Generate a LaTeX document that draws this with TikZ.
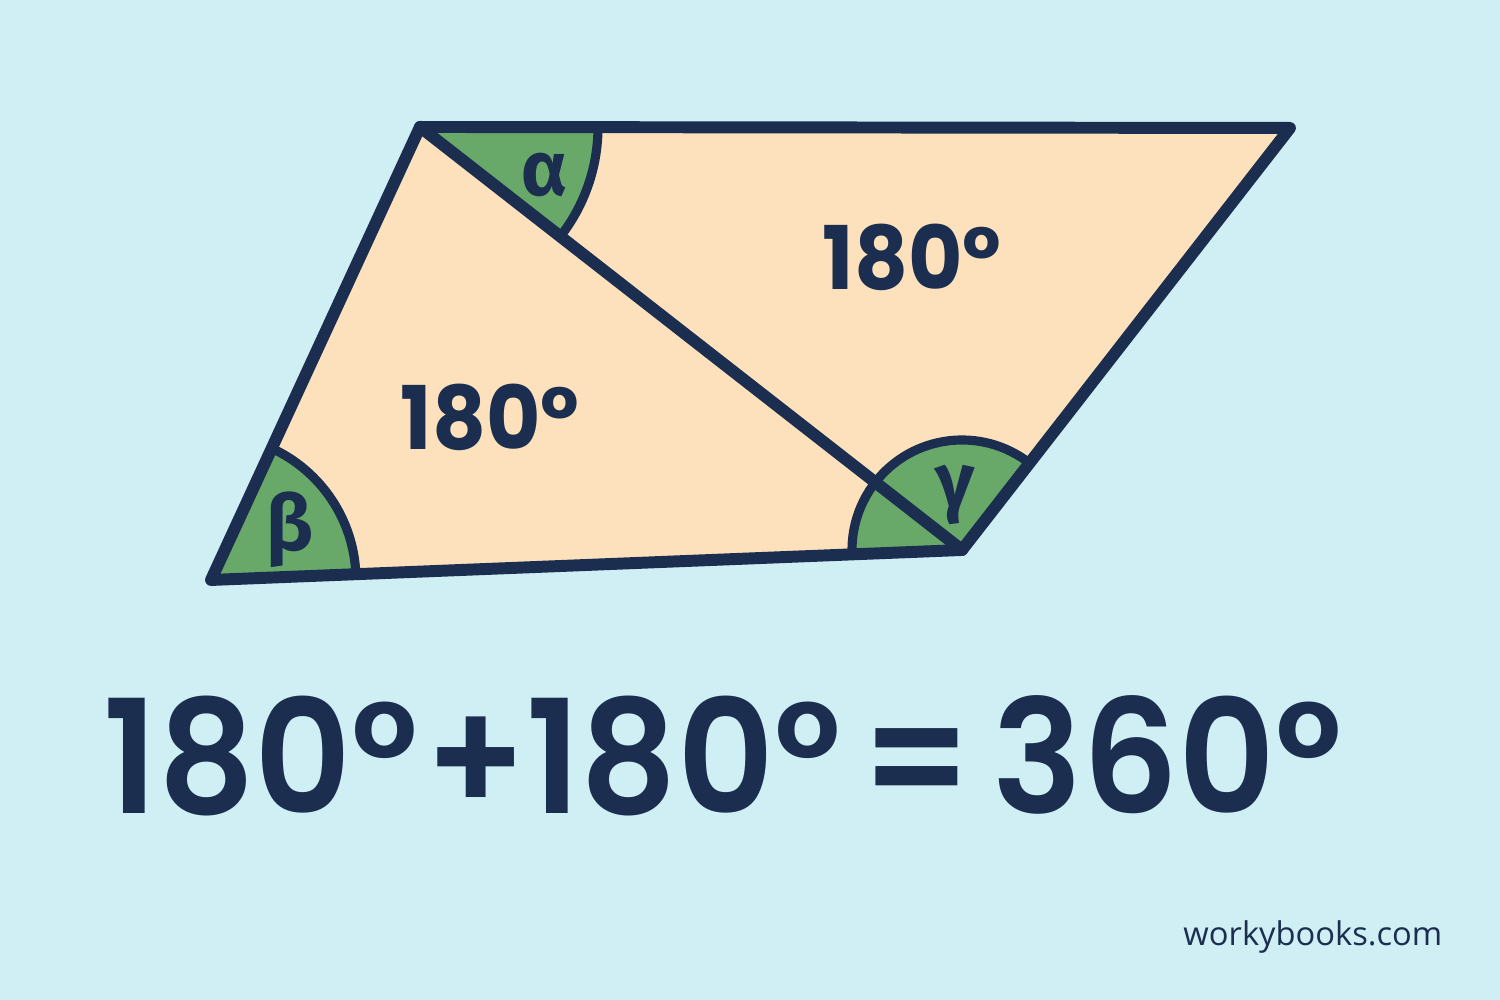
\documentclass[tikz,border=0pt]{standalone}
\usepackage{fontspec}
\setmainfont{Poppins}
\newfontfamily\bigfont{Poppins SemiBold}
\newfontfamily\greekfont{Fira Sans}
\newfontfamily\markfont{Open Sans}
\definecolor{skybg}{HTML}{CFEFF4}
\definecolor{peach}{HTML}{FDE1BC}
\definecolor{leaf}{HTML}{68A96A}
\definecolor{navy}{HTML}{1B2E4F}
\tikzset{
  edge/.style={draw=navy, line width=3.4pt, line join=round, line cap=round},
  wedge/.style={fill=leaf, draw=navy, line width=2.6pt, line join=round},
  greek/.style={text=navy, font=\greekfont\bfseries\fontsize{22}{22}\selectfont},
  sum/.style={text=navy, font=\bfseries\fontsize{25}{25}\selectfont, xscale=0.95},
}
\begin{document}
\begin{tikzpicture}
  \useasboundingbox (0,0) rectangle (15,10);
  \fill[skybg] (0,0) rectangle (15,10);
  % corners of the parallelogram
  \coordinate (A) at (4.20,8.73);
  \coordinate (B) at (12.90,8.72);
  \coordinate (C) at (9.62,4.50);
  \coordinate (D) at (2.11,4.20);
  \fill[peach] (A) -- (B) -- (C) -- (D) -- cycle;
  % angle wedges
  \draw[wedge] (A) -- ++(0:1.78) arc (0:-37.97:1.78) -- cycle;
  \draw[wedge] (D) -- ++(2.29:1.45) arc (2.29:65.23:1.45) -- cycle;
  \draw[wedge] (C) -- ++(52.15:1.10) arc (52.15:182.29:1.10) -- cycle;
  \draw[edge] (A) -- (B) -- (C) -- (D) -- cycle;
  \draw[edge] (A) -- (C);
  % labels
  \node[greek] (alpha) at (5.45,8.25) {α};
  \node[greek] (beta) at (2.90,4.70) {β};
  \node[greek] (gamma) at (9.55,5.05) {γ};
  \node[sum] (upper) at (9.12,7.43) {180°};
  \node[sum] (lower) at (4.90,5.83) {180°};
  \node[text=navy, font=\bigfont\fontsize{45}{45}\selectfont, xscale=0.95] (total) at (7.23,2.44) {180°\kern2pt+180°\kern6pt=\kern6pt360°};
  \node[text=navy, font=\markfont\fontsize{9.3}{9.3}\selectfont, anchor=east, inner sep=0pt] (mark) at (14.43,0.63) {workybooks.com};
\end{tikzpicture}
\end{document}
